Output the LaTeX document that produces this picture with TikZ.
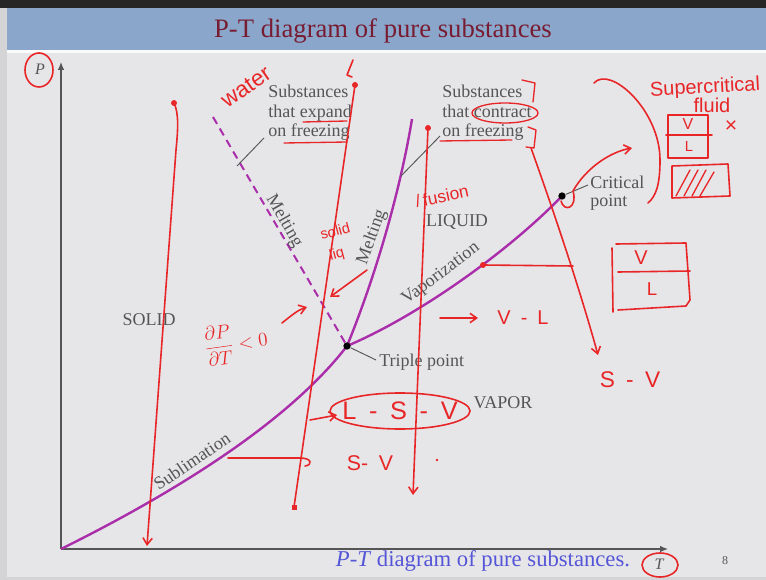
\documentclass[tikz,border=0pt]{standalone}
\usepackage{fontspec}
\setmainfont{Liberation Serif}
\newfontfamily\hand{Liberation Sans}
\usetikzlibrary{arrows.meta}
\definecolor{slidebg}{RGB}{230,230,233}
\definecolor{hdr}{RGB}{138,167,203}
\definecolor{ttl}{RGB}{120,28,50}
\definecolor{lblc}{RGB}{85,85,85}
\definecolor{crv}{RGB}{170,45,170}
\definecolor{annc}{RGB}{232,38,40}
\definecolor{capc}{RGB}{85,85,215}
\begin{document}
\begin{tikzpicture}[x=0.75pt,y=-0.75pt,
  lbl/.style={text=lblc,font=\fontsize{13.5}{15}\selectfont,inner sep=0pt},
  pcurve/.style={draw=crv,line width=1.8pt},
  lead/.style={draw=lblc,line width=0.7pt},
  ann/.style={draw=annc,line width=1.2pt,line cap=round,line join=round},
  annt/.style={text=annc,font=\hand\fontsize{15}{16}\selectfont,inner sep=0pt},
  redtip/.style={-{Straight Barb[length=5pt,width=7pt]}},
  rdot/.style={fill=annc,circle,inner sep=0pt,minimum size=4.5pt},
  bdot/.style={fill=black,circle,inner sep=0pt,minimum size=5.5pt}
]
\useasboundingbox (0,0) rectangle (766,580);
% slide background
\fill[black!85] (0,0) rectangle (766,8);
\fill[slidebg!92!black] (0,8) rectangle (766,580);
\fill[slidebg] (7,50) rectangle (766,577);
\fill[hdr] (7,8) rectangle (766,50);
\fill[white!85!slidebg] (7,50) rectangle (766,53);
\node[text=ttl,font=\fontsize{20}{22}\selectfont] (title) at (383,31) {P-T diagram of pure substances};

% key points
\coordinate (O) at (61,549);
\coordinate (Ptop) at (61,62);
\coordinate (Tend) at (668,549);
\coordinate (tp) at (347,346);
\coordinate (cp) at (562,196);
\coordinate (meltTop) at (412,119);
\coordinate (dashTop) at (213,117);

% axes
\draw[draw=lblc,line width=0.9pt,-{Latex[length=6pt,width=5pt]}] (O) -- (Ptop);
\draw[draw=lblc,line width=0.9pt,-{Latex[length=6pt,width=5pt]}] (O) -- (Tend);
\node[text=lblc,font=\itshape\fontsize{12}{12}\selectfont] (P) at (40,69) {P};
\node[text=lblc,font=\itshape\fontsize{12}{12}\selectfont] (T) at (659,564) {T};

% phase curves
\draw[pcurve] (O) .. controls (180,490) and (290,420) .. (tp);
\draw[pcurve] (tp) .. controls (420,315) and (510,250) .. (cp);
\draw[pcurve] (tp) .. controls (380,265) and (402,180) .. (meltTop);
\draw[pcurve,line width=1.5pt,dash pattern=on 6pt off 4pt] (dashTop) -- (tp);
\node[bdot] (tpd) at (tp) {};
\node[bdot] (cpd) at (cp) {};

% gray labels
\node[lbl,anchor=base west] (se1) at (268,98) {Substances};
\node[lbl,anchor=base west] (se2) at (268,118) {that expand};
\node[lbl,anchor=base west] (se3) at (268,137) {on freezing};
\node[lbl,anchor=base west] (sc1) at (442,98) {Substances};
\node[lbl,anchor=base west] (sc2) at (442,118) {that contract};
\node[lbl,anchor=base west] (sc3) at (442,137) {on freezing};
\node[lbl,anchor=base west] (cr1) at (590,189) {Critical};
\node[lbl,anchor=base west] (cr2) at (590,207) {point};
\node[lbl,anchor=base west] (trp) at (379,366) {Triple point};
\node[lbl] (solid) at (149,320) {SOLID};
\node[lbl] (liquid) at (457,222) {LIQUID};
\node[lbl] (vapor) at (503,403) {VAPOR};
\node[lbl,rotate=-60] (melt1) at (284,221) {Melting};
\node[lbl,rotate=70] (melt2) at (372,237) {Melting};
\node[lbl,rotate=37] (vap) at (441,274) {Vaporization};
\node[lbl,rotate=34] (sub) at (192,461) {Sublimation};
\coordinate (l1a) at (237,166);
\coordinate (l2a) at (401,176);
\draw[lead] (l1a) -- (264,138);
\draw[lead] (l2a) -- (440,136);
\draw[lead] (cpd) -- (588,185);
\draw[lead] (tpd) -- (376,360);
\node[text=capc,font=\fontsize{17}{18}\selectfont] (caption) at (483,561) {\textit{P-T} diagram of pure substances.};
\node[text=lblc,font=\fontsize{9}{9}\selectfont] (pg) at (725,561) {8};

% ---------- red annotations ----------
\draw[ann] (39,70) ellipse [x radius=14, y radius=17];
\draw[ann] (660,565) ellipse [x radius=18, y radius=12];

% vertical red lines
\node[rdot] (d1) at (174,103) {};
\coordinate (r1bot) at (147,546);
\draw[ann,redtip] (d1.center) .. controls (179,113) and (178,130) .. (176,150) -- (r1bot);
\node[rdot] (d2) at (355,85) {};
\coordinate (r2bot) at (294,507);
\draw[ann] (d2.center) -- (r2bot);
\fill[annc] (r2bot) +(-2.5,-2.5) rectangle +(2.5,2.5);
\draw[ann] (353,60) -- (347,75) -- (352,77);
\node[rdot] (d3) at (428,128) {};
\coordinate (r3bot) at (413,495);
\draw[ann,redtip] (d3.center) -- (r3bot);

% water
\node[annt,font=\hand\fontsize{17}{17}\selectfont,rotate=35] (water) at (246,87) {water};
% underlines
\draw[ann,line width=1pt] (303,122) -- (347,121);
\draw[ann,line width=1pt] (284,143) -- (347,142);
\draw[ann,line width=1pt] (440,141) -- (512,140);
% contract ellipse and brackets
\draw[ann,line width=1pt] (505,113) ellipse [x radius=33, y radius=10];
\draw[ann,line width=1pt] (522,80) -- (535,83) -- (533,102);
\draw[ann,line width=1pt] (528,127) -- (536,130) -- (534,148) -- (526,147);
\node[rdot] (d4) at (483,265) {};
\draw[ann,redtip] (531,148) .. controls (555,215) and (580,290) .. (598,355);
\draw[ann] (d4.center) -- (573,266);
\node[annt,font=\hand\fontsize{17}{17}\selectfont] (sv1) at (630,380) {S\enspace-\enspace V};

% critical point loop and arrow
\draw[ann,redtip] (561,201) .. controls (564,213) and (578,208) .. (573,191) .. controls (586,168) and (610,152) .. (632,148);
\draw[ann] (594,83) .. controls (610,65) and (660,110) .. (660,160) .. controls (660,185) and (656,196) .. (648,203);

% supercritical fluid
\node[annt,rotate=3] (sc) at (705,88) {Supercritical};
\node[annt] (fl) at (712,105) {fluid};
\draw[ann] (668,115) rectangle (708,158);
\draw[ann] (666,135) -- (712,135);
\node[annt,font=\hand\fontsize{12}{12}\selectfont] (bv1) at (688,124) {V};
\node[annt,font=\hand\fontsize{11}{11}\selectfont] (bl1) at (689,146) {L};
\node[annt,font=\hand\fontsize{16}{16}\selectfont] (x1) at (731,127) {×};
\draw[ann] (672,166) -- (728,164) -- (730,196) -- (672,198) -- cycle;
\begin{scope}
\clip (672,166) rectangle (728,197);
\draw[ann,line width=1pt] (676,196) -- (690,170);
\draw[ann,line width=1pt] (684,196) -- (698,170);
\draw[ann,line width=1pt] (692,196) -- (706,170);
\draw[ann,line width=1pt] (700,196) -- (714,172);
\end{scope}

% V/L box
\draw[ann] (612,248) -- (613,312);
\draw[ann] (616,244) -- (686,243) -- (690,300) -- (686,306) -- (618,310);
\draw[ann] (618,272) -- (690,271);
\node[annt,font=\hand\fontsize{15}{15}\selectfont] (bv2) at (641,258) {V};
\node[annt,font=\hand\fontsize{14}{14}\selectfont] (bl2) at (652,289) {L};

% fusion, solid liq
\node[annt,font=\hand\fontsize{13}{13}\selectfont,rotate=12] (fus) at (442,196) {/\,fusion};
\node[annt,font=\hand\fontsize{11}{11}\selectfont,rotate=15] (sol) at (335,231) {solid};
\node[annt,font=\hand\fontsize{11}{11}\selectfont,rotate=15] (liq) at (337,255) {liq};
\draw[ann,redtip] (367,270) -- (330,297);

% dP/dT < 0
\node[annt,font=\fontsize{15}{15}\selectfont,rotate=8] (dpdt) at (236,343) {$\displaystyle\frac{\partial P}{\partial T}<0$};
\draw[ann,redtip] (282,323) .. controls (292,315) and (298,310) .. (307,307);

% V-L
\draw[ann,redtip] (440,318) -- (478,318);
\node[annt,font=\hand\fontsize{15}{15}\selectfont] (vl) at (523,318) {V\enspace-\enspace L};

% L-S-V
\draw[ann] (400,411) ellipse [x radius=70, y radius=18];
\node[annt,font=\hand\fontsize{19}{19}\selectfont] (lsv) at (400,411) {L\enspace-\enspace S\enspace-\enspace V};
\draw[ann,redtip] (310,420) -- (337,415);

% S-V lower
\draw[ann] (228,458) -- (300,458) .. controls (312,458) and (313,465) .. (305,466);
\node[annt,font=\hand\fontsize{16}{16}\selectfont] (sv2) at (370,463) {S-\enspace V};
\fill[annc] (437,460) circle [radius=1.3];
\end{tikzpicture}
\end{document}
